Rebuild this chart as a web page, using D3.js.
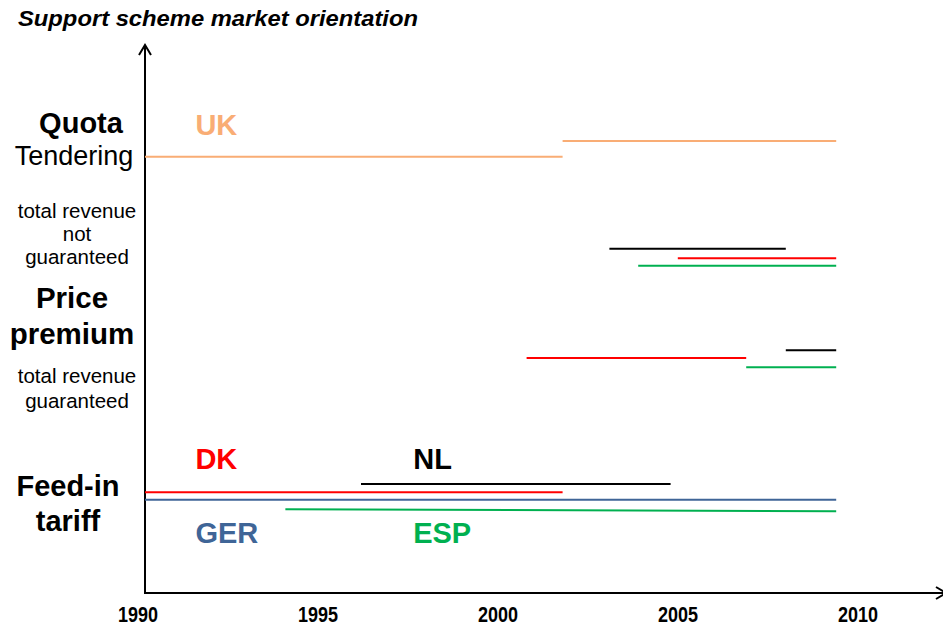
<!DOCTYPE html>
<html>
<head>
<meta charset="utf-8">
<script src="https://cdn.jsdelivr.net/npm/d3@7"></script>
<style>
	body { margin: 0; background: #fff; }
	svg { display: block; font-family: 'Liberation Sans', Arial, sans-serif; }
</style>
</head>
<body>
<div id="chart"></div>
<script>
const width = 943
const height = 627

// years on the x axis
const years = [1990, 1995, 2000, 2005, 2010]

// support scheme segments: start year, end year, orientation level (start/end)
const ukSegments = [
	{ x0: 1990, x1: 2001.6, y0: 7.96, y1: 7.96 },
	{ x0: 2001.6, x1: 2009.2, y0: 8.25, y1: 8.25 },
]
const dkSegments = [
	{ x0: 1990, x1: 2001.6, y0: 1.84, y1: 1.84 },
	{ x0: 2000.6, x1: 2006.7, y0: 4.29, y1: 4.29 },
	{ x0: 2004.8, x1: 2009.2, y0: 6.11, y1: 6.11 },
]
const nlSegments = [
	{ x0: 1996, x1: 2004.6, y0: 1.99, y1: 1.99 },
	{ x0: 2002.9, x1: 2007.8, y0: 6.28, y1: 6.28 },
	{ x0: 2007.8, x1: 2009.2, y0: 4.43, y1: 4.43 },
]
const gerSegments = [
	{ x0: 1990, x1: 2009.2, y0: 1.70, y1: 1.70 },
]
const espSegments = [
	{ x0: 1993.9, x1: 2009.2, y0: 1.53, y1: 1.49 },
	{ x0: 2006.7, x1: 2009.2, y0: 4.12, y1: 4.12 },
	{ x0: 2003.7, x1: 2009.2, y0: 5.97, y1: 5.97 },
]

const countries = [
	{ name: 'UK', color: '#F9AD75', segments: ukSegments, label: [1991.4, 8.36] },
	{ name: 'NL', color: '#000000', segments: nlSegments, label: [1997.45, 2.27] },
	{ name: 'DK', color: '#FF0000', segments: dkSegments, label: [1991.4, 2.27] },
	{ name: 'GER', color: '#3F6597', segments: gerSegments, label: [1991.4, 0.92] },
	{ name: 'ESP', color: '#00B050', segments: espSegments, label: [1997.45, 0.92] },
]

// left side category labels
const categoryLabels = [
	{ lines: ['Quota'], bold: true, size: 29, cx: 81, y: 133 },
	{ lines: ['Tendering'], bold: false, size: 27, cx: 74, y: 165 },
	{ lines: ['total revenue', 'not', 'guaranteed'], bold: false, size: 20.5, cx: 77, y: 218, lh: 23 },
	{ lines: ['Price', 'premium'], bold: true, size: 29.5, cx: 72, y: 308, lh: 36 },
	{ lines: ['total revenue', 'guaranteed'], bold: false, size: 20.5, cx: 77, y: 383, lh: 25 },
	{ lines: ['Feed-in', 'tariff'], bold: true, size: 29, cx: 68, y: 496, lh: 35 },
]

const x = d3.scaleLinear().domain([1990, 2010]).range([145, 865])
const y = d3.scaleLinear().domain([0, 10]).range([593, 45])

const svg = d3.select('#chart').append('svg')
	.attr('width', width)
	.attr('height', height)

// title
svg.append('text')
	.attr('x', 18)
	.attr('y', 26)
	.attr('textLength', 400)
	.attr('lengthAdjust', 'spacingAndGlyphs')
	.style('font-size', '22px')
	.style('font-weight', 'bold')
	.style('font-style', 'italic')
	.text('Support scheme market orientation')

// axes
const axisG = svg.append('g')
	.attr('stroke', '#000')
	.attr('stroke-width', 2)
	.attr('fill', 'none')

axisG.append('line')
	.attr('x1', x(1990)).attr('y1', y(0))
	.attr('x2', x(1990)).attr('y2', y(10))
axisG.append('path')
	.attr('d', `M${x(1990) - 6},${y(10) + 10} L${x(1990)},${y(10)} L${x(1990) + 6},${y(10) + 10}`)

axisG.append('line')
	.attr('x1', x(1990) - 1).attr('y1', y(0))
	.attr('x2', 946).attr('y2', y(0))
axisG.append('path')
	.attr('d', `M936,${y(0) - 6} L946,${y(0)} L936,${y(0) + 6}`)

// year labels
svg.append('g')
	.selectAll('text')
	.data(years)
	.join('text')
		.attr('x', d => x(d) - 7)
		.attr('y', 622)
		.attr('text-anchor', 'middle')
		.attr('textLength', 40)
		.attr('lengthAdjust', 'spacingAndGlyphs')
		.style('font-family', "'Liberation Sans Narrow', 'Liberation Sans', Arial, sans-serif")
		.style('font-size', '22px')
		.style('font-weight', 'bold')
		.text(d => d)

// category labels on the left
const cat = svg.append('g')
	.selectAll('text')
	.data(categoryLabels)
	.join('text')
		.attr('text-anchor', 'middle')
		.style('font-size', d => `${d.size}px`)
		.style('font-weight', d => d.bold ? 'bold' : 'normal')

cat.selectAll('tspan')
	.data(d => d.lines.map((l, i) => ({ l, i, d })))
	.join('tspan')
		.attr('x', t => t.d.cx)
		.attr('y', t => t.d.y + t.i * (t.d.lh || 0))
		.text(t => t.l)

// segments
const seg = svg.append('g')
	.selectAll('g')
	.data(countries)
	.join('g')
		.attr('stroke', d => d.color)
		.attr('stroke-width', 2)

seg.selectAll('line')
	.data(d => d.segments)
	.join('line')
		.attr('x1', d => x(d.x0))
		.attr('x2', d => x(d.x1))
		.attr('y1', d => y(d.y0))
		.attr('y2', d => y(d.y1))

// country labels
svg.append('g')
	.selectAll('text')
	.data(countries)
	.join('text')
		.attr('x', d => x(d.label[0]))
		.attr('y', d => y(d.label[1]))
		.attr('fill', d => d.color)
		.style('font-size', '29px')
		.style('font-weight', 'bold')
		.text(d => d.name)
</script>
</body>
</html>
